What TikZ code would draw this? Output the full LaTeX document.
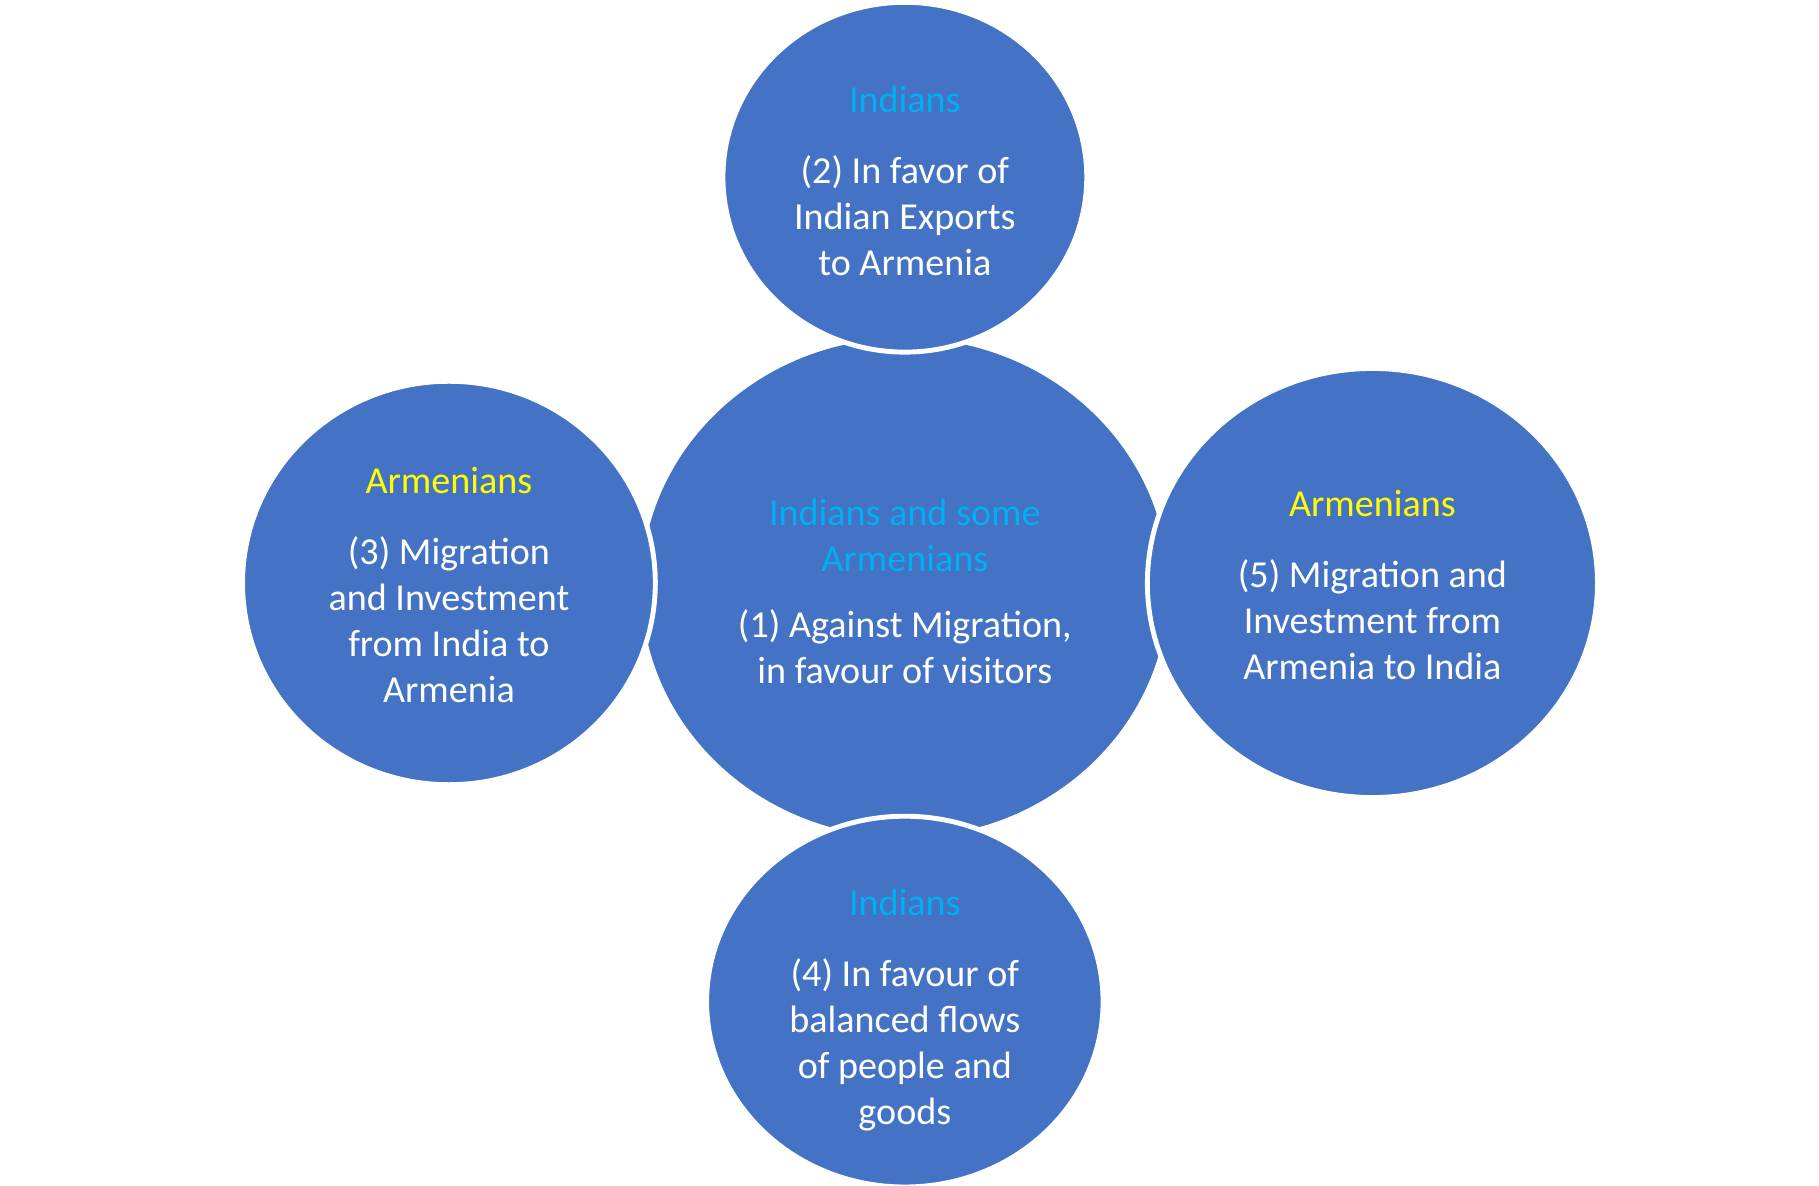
\documentclass[tikz,border=0pt]{standalone}
\usepackage{fontspec}
\setmainfont{Carlito}
\usetikzlibrary{positioning}
\definecolor{discblue}{HTML}{4472C4}
\definecolor{headblue}{HTML}{00B0F0}
\definecolor{headyellow}{HTML}{FFFF00}
\begin{document}
\begin{tikzpicture}[font=\fontsize{9.3}{11.2}\selectfont,
	disc/.style={fill=discblue,draw=white,line width=1.2pt},
	bodytext/.style={text=white,align=center}]
	\useasboundingbox (0,0) rectangle (15.6,10.17);
	%discs
	\fill[discblue] (7.76,5.13) ellipse [x radius=2.26, y radius=2.14];
	\filldraw[disc] (7.76,8.65) ellipse [x radius=1.56, y radius=1.50];
	\filldraw[disc] (3.85,5.17) ellipse [x radius=1.77, y radius=1.73];
	\filldraw[disc] (11.77,5.17) ellipse [x radius=1.93, y radius=1.84];
	\filldraw[disc] (7.76,1.58) ellipse [x radius=1.70, y radius=1.59];
	%texts
	\node[text=headblue,align=center] (midhead) at (7.76,5.58) {Indians and some\\Armenians};
	\node[bodytext,below=0.08 of midhead] (midbody) {(1) Against Migration,\\in favour of visitors};
	\node[text=headblue] (tophead) at (7.76,9.32) {Indians};
	\node[bodytext,below=0.12 of tophead] (topbody) {(2) In favor of\\Indian Exports\\to Armenia};
	\node[text=headyellow] (lefthead) at (3.85,6.05) {Armenians};
	\node[bodytext,below=0.12 of lefthead] (leftbody) {(3) Migration\\and Investment\\from India to\\Armenia};
	\node[text=headyellow] (righthead) at (11.77,5.85) {Armenians};
	\node[bodytext,below=0.12 of righthead] (rightbody) {(5) Migration and\\Investment from\\Armenia to India};
	\node[text=headblue] (bothead) at (7.76,2.43) {Indians};
	\node[bodytext,below=0.12 of bothead] (botbody) {(4) In favour of\\balanced flows\\of people and\\goods};
\end{tikzpicture}
\end{document}
